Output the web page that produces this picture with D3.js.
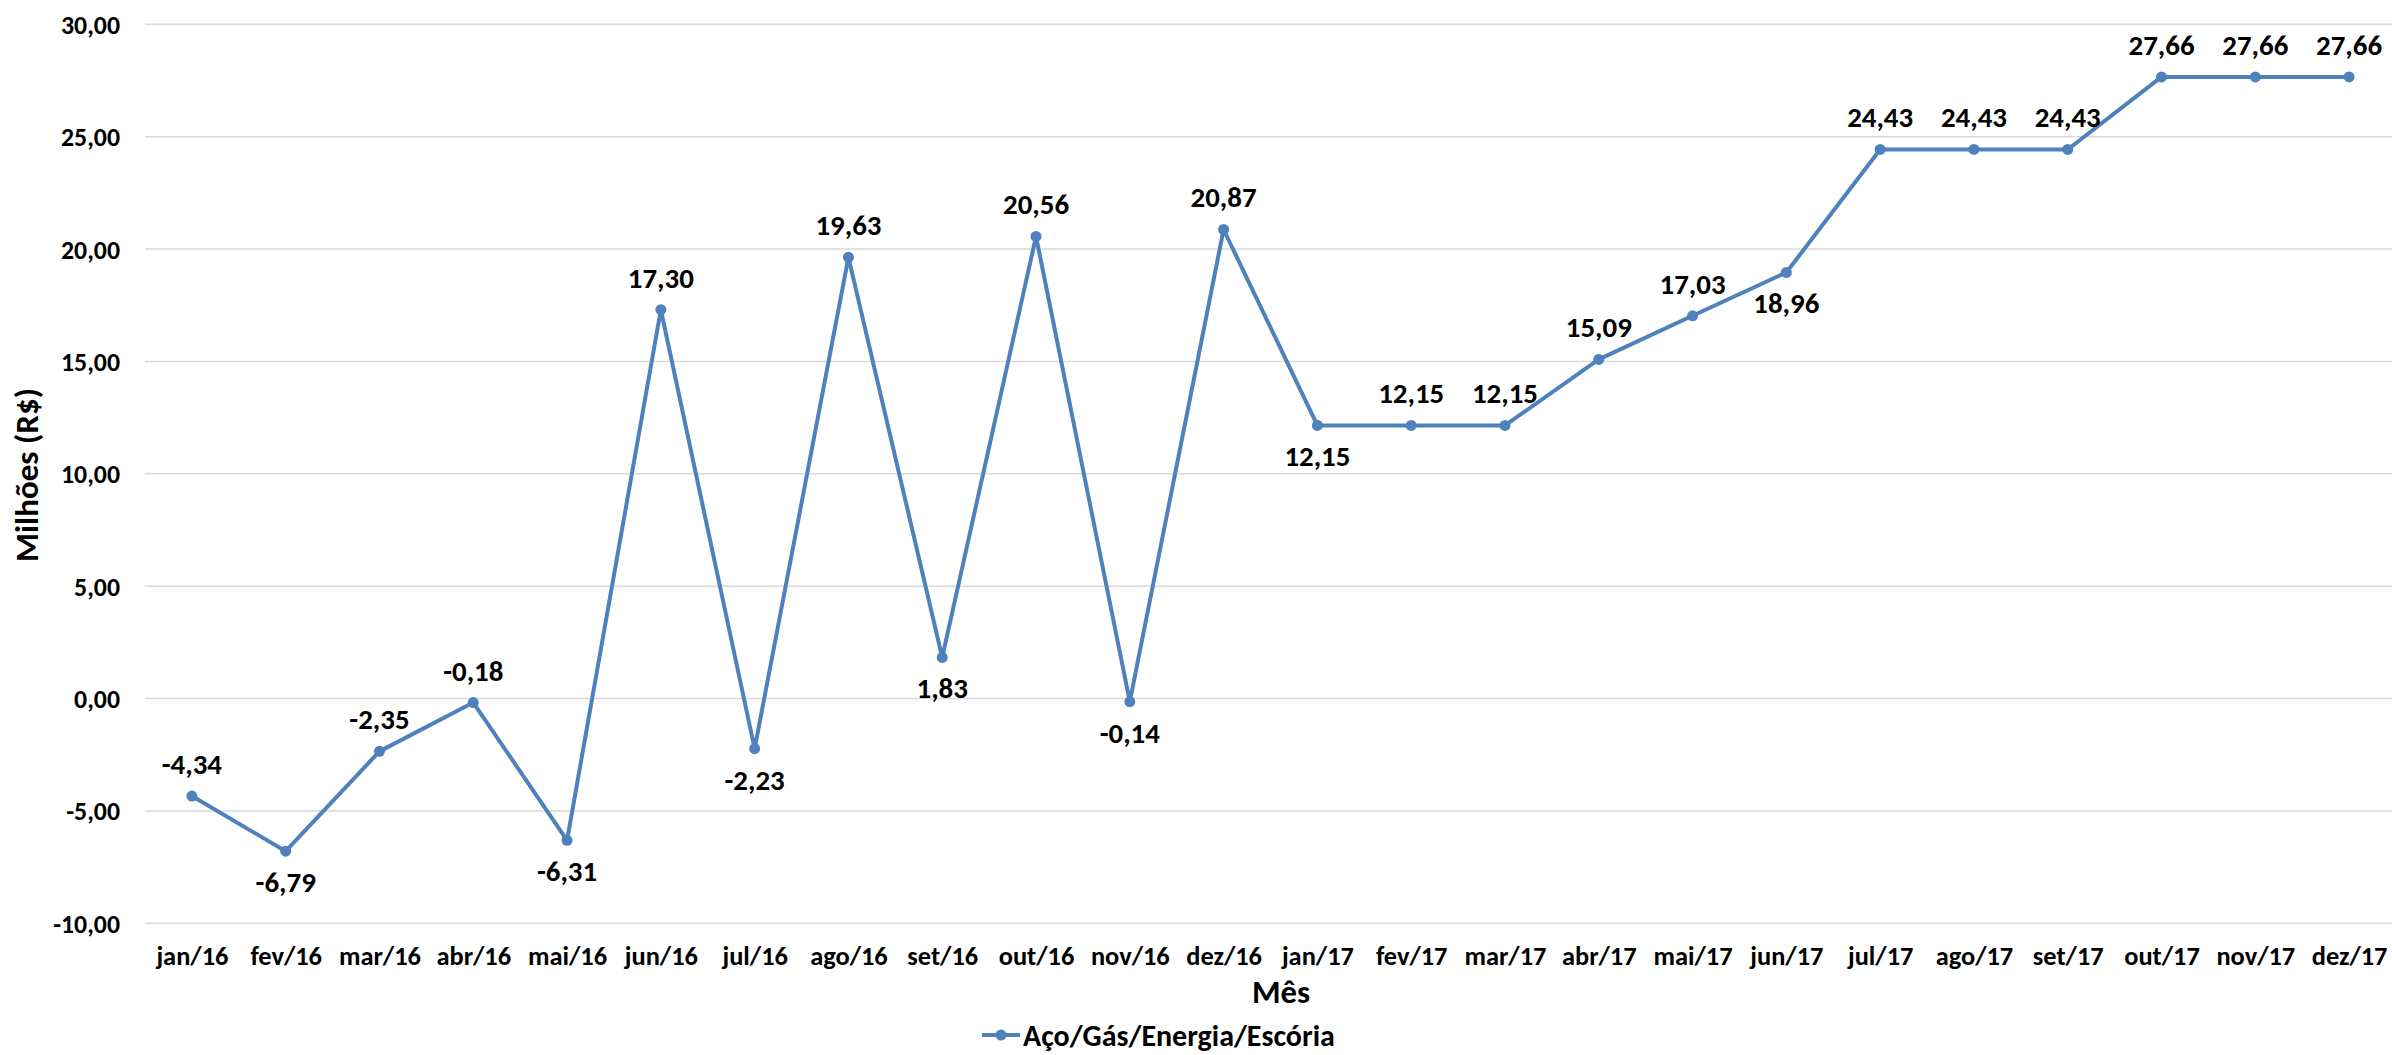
<!DOCTYPE html>
<html>
<head>
<meta charset="utf-8">
<script src="https://cdn.jsdelivr.net/npm/d3@7"></script>
<style>
  html, body { margin: 0; padding: 0; background: #fff; }
  svg { display: block; }
  text { font-family: Calibri, Carlito, Lato, "Open Sans", sans-serif; font-weight: 700; fill: #000; }
</style>
</head>
<body>
<svg id="chart" width="2392" height="1055"></svg>
<script>
// Monthly result series (R$ millions)
const months = ["jan/16","fev/16","mar/16","abr/16","mai/16","jun/16","jul/16","ago/16","set/16","out/16","nov/16","dez/16",
                "jan/17","fev/17","mar/17","abr/17","mai/17","jun/17","jul/17","ago/17","set/17","out/17","nov/17","dez/17"];
const values = [-4.34,-6.79,-2.35,-0.18,-6.31,17.30,-2.23,19.63,1.83,20.56,-0.14,20.87,
                12.15,12.15,12.15,15.09,17.03,18.96,24.43,24.43,24.43,27.66,27.66,27.66];
// label placement for each point: "a" above, "b" below
const labelSide = ["a","b","a","a","b","a","b","a","b","a","b","a",
                   "b","a","a","a","a","b","a","a","a","a","a","a"];
const yTicks = [-10,-5,0,5,10,15,20,25,30];
const seriesName = "Aço/Gás/Energia/Escória";
const xTitle = "Mês";
const yTitle = "Milhões (R$)";

const ptBR = d3.formatLocale({decimal: ",", thousands: ".", grouping: [3], currency: ["R$", ""], minus: "-"});
const fmt = ptBR.format(".2f");

const svg = d3.select("#chart");
const color = "#4F81BD";

// pick a font size so that a sample string spans the wanted width
function sizeFor(sample, width) {
  const t = svg.append("text").style("font-size", "100px").text(sample);
  const w = t.node().getComputedTextLength();
  t.remove();
  return Math.round(100 * width / w * 10) / 10;
}
const fsYTick = sizeFor("30,00", 59);
const fsXTick = sizeFor("jan/16", 72);
const fsLabel = sizeFor("27,66", 66);
const fsXTitle = sizeFor(xTitle, 58);
const fsYTitle = sizeFor(yTitle, 174);
const fsLegend = sizeFor(seriesName, 312);

const x = d3.scalePoint().domain(months).range([145, 2396]).padding(0.5);
const y = d3.scaleLinear().domain([-10, 30]).range([923.3, 24.3]);

// horizontal gridlines
svg.append("g").selectAll("line").data(yTicks).join("line")
  .attr("x1", 145).attr("x2", 2396)
  .attr("y1", d => y(d)).attr("y2", d => y(d))
  .attr("stroke", "#d9d9d9").attr("stroke-width", 1.5);

// y axis labels
const yAxis = d3.axisLeft(y).tickValues(yTicks).tickFormat(fmt).tickSize(0).tickPadding(0);
const gy = svg.append("g").attr("transform", "translate(120,0)").call(yAxis);
gy.select(".domain").remove();
gy.selectAll("text").style("font-size", fsYTick + "px").attr("fill", "#000").attr("dy", "0.35em");

// x axis labels
const xAxis = d3.axisBottom(x).tickSize(0).tickPadding(0);
const gx = svg.append("g").attr("transform", "translate(0,965)").call(xAxis);
gx.select(".domain").remove();
gx.selectAll("text").style("font-size", fsXTick + "px").attr("fill", "#000").attr("dy", "0").attr("y", 0);

// axis titles
svg.append("text").attr("x", 1281).attr("y", 1003).attr("text-anchor", "middle")
  .style("font-size", fsXTitle + "px").text(xTitle);
svg.append("text").attr("transform", "translate(38,475) rotate(-90)").attr("text-anchor", "middle")
  .style("font-size", fsYTitle + "px").text(yTitle);

// series line
const line = d3.line().x((d, i) => x(months[i])).y(d => y(d));
svg.append("path").datum(values).attr("d", line)
  .attr("fill", "none").attr("stroke", color).attr("stroke-width", 4).attr("stroke-linejoin", "round");

// markers
svg.append("g").selectAll("circle").data(values).join("circle")
  .attr("cx", (d, i) => x(months[i])).attr("cy", d => y(d)).attr("r", 5.5).attr("fill", color);

// data labels
svg.append("g").selectAll("text").data(values).join("text")
  .attr("x", (d, i) => x(months[i]))
  .attr("y", (d, i) => labelSide[i] === "a" ? y(d) - 22 : y(d) + 41)
  .attr("text-anchor", "middle").style("font-size", fsLabel + "px")
  .text(d => fmt(d));

// legend
const lg = svg.append("g").attr("transform", "translate(982,1035)");
lg.append("line").attr("x1", 0).attr("x2", 38).attr("y1", 0).attr("y2", 0)
  .attr("stroke", color).attr("stroke-width", 4);
lg.append("circle").attr("cx", 19).attr("cy", 0).attr("r", 5.5).attr("fill", color);
lg.append("text").attr("x", 41).attr("y", 0).attr("dy", "0.35em").style("font-size", fsLegend + "px").text(seriesName);
</script>
</body>
</html>
